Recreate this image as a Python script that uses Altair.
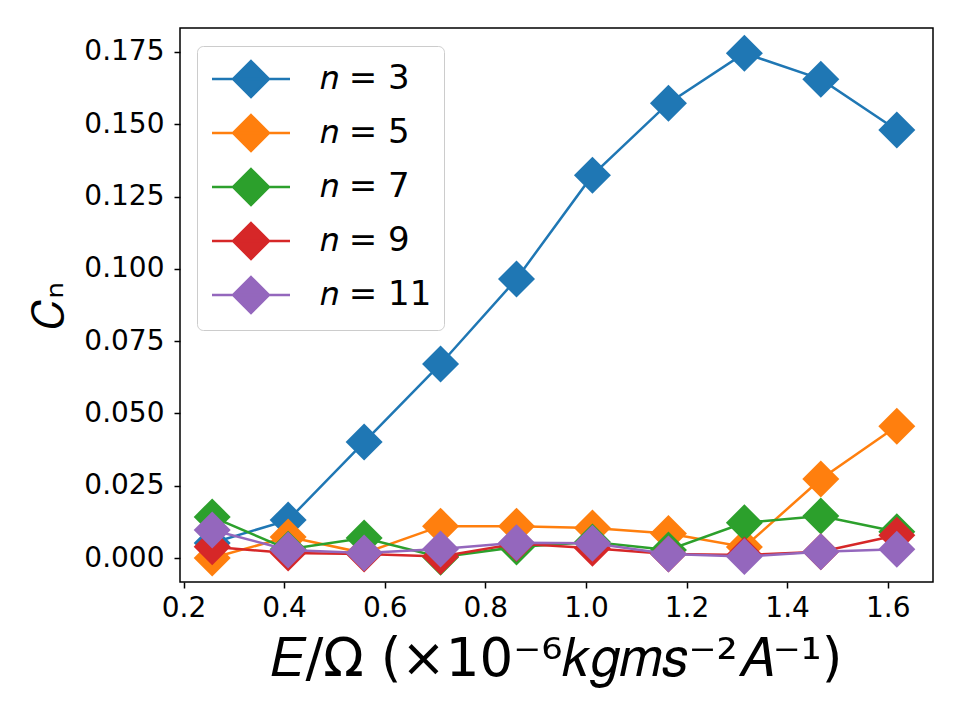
import altair as alt
import pandas as pd

x_vals = [0.257, 0.408, 0.559, 0.711, 0.862, 1.013, 1.164, 1.315, 1.467, 1.618]
c3 = [0.0052, 0.0131, 0.0401, 0.0671, 0.0965, 0.1324, 0.1573, 0.1746, 0.1656, 0.1480]
c5 = [0.0000, 0.0073, 0.0017, 0.0110, 0.0110, 0.0104, 0.0085, 0.0038, 0.0273, 0.0456]
c7 = [0.0142, 0.0030, 0.0069, 0.0003, 0.0038, 0.0055, 0.0028, 0.0122, 0.0145, 0.0091]
c9 = [0.0039, 0.0017, 0.0014, 0.0005, 0.0050, 0.0034, 0.0014, 0.0010, 0.0022, 0.0079]
c11 = [0.0097, 0.0028, 0.0017, 0.0031, 0.0053, 0.0051, 0.0014, 0.0005, 0.0022, 0.0030]

series_labels = ["𝑛 = 3", "𝑛 = 5", "𝑛 = 7", "𝑛 = 9", "𝑛 = 11"]
series_values = [c3, c5, c7, c9, c11]
colors = ["#1f77b4", "#ff7f0e", "#2ca02c", "#d62728", "#9467bd"]

rows = []
for order, (lab, vals) in enumerate(zip(series_labels, series_values)):
    for xv, yv in zip(x_vals, vals):
        rows.append({"x": xv, "c": yv, "series": lab, "order": order})
df = pd.DataFrame(rows)

x_enc = alt.X("x:Q", scale=alt.Scale(domain=[0.193, 1.69], nice=False, zero=False),
              axis=alt.Axis(values=[0.2, 0.4, 0.6, 0.8, 1.0, 1.2, 1.4, 1.6], format=".1f",
                            title="𝐸/Ω (×10⁻⁶𝑘𝑔𝑚𝑠⁻²𝐴⁻¹)", titlePadding=11,
                            titleFontSize=53, labelPadding=6))
y_enc = alt.Y("c:Q", scale=alt.Scale(domain=[-0.0083, 0.1833], nice=False, zero=False),
              axis=alt.Axis(values=[0, 0.025, 0.05, 0.075, 0.1, 0.125, 0.15, 0.175], format=".3f",
                            title="𝐶ₙ", titlePadding=12, titleFontSize=42, labelPadding=10))

legend_path = "M-2,0L2,0M0,-0.92L0.92,0L0,0.92L-0.92,0Z"
color_enc = alt.Color("series:N",
                      scale=alt.Scale(domain=series_labels, range=colors),
                      legend=alt.Legend(title=None, orient="none", legendX=17, legendY=18,
                                        symbolType=legend_path, symbolSize=1521,
                                        symbolStrokeWidth=2.5, labelFontSize=34,
                                        labelFont="DejaVu Sans", labelOffset=48,
                                        symbolOffset=21, padding=12, rowPadding=8,
                                        strokeColor="#cccccc", fillColor="white",
                                        cornerRadius=6, symbolOpacity=1))

layers = []
for lab in series_labels:
    base = alt.Chart(df).transform_filter(alt.datum.series == lab)
    layers.append(base.mark_line(strokeWidth=2.5).encode(x=x_enc, y=y_enc, color=color_enc, order="x:Q"))
    layers.append(base.mark_point(shape="diamond", filled=True, size=1369, opacity=1).encode(
        x=x_enc, y=y_enc, color=color_enc))

chart = alt.layer(*layers).properties(
    width=753, height=554,
    autosize=alt.AutoSizeParams(type="none"),
    padding={"left": 180, "top": 28, "right": 27, "bottom": 138},
    background="white",
).configure_view(stroke="black", strokeWidth=1.5).configure_axis(
    grid=False, domain=False, tickColor="black", tickSize=6, tickWidth=1.5,
    labelFont="DejaVu Sans", labelFontSize=28, labelColor="black",
    titleFont="DejaVu Sans", titleColor="black", titleFontWeight="normal",
)

chart.save("out.html", embed_options={"renderer": "svg", "actions": False})
